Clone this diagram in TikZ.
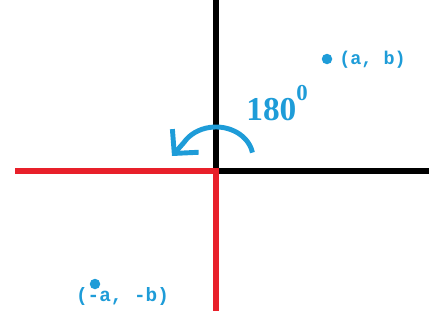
\documentclass[tikz,border=0pt]{standalone}
\usepackage{fontspec}
\setmainfont{Liberation Serif}
\setmonofont{Liberation Mono}
\usepackage{tikz}
\usetikzlibrary{arrows.meta, positioning}
\definecolor{rotBlue}{HTML}{1E9CD8}
\definecolor{axisRed}{HTML}{E8202A}

\begin{document}
\begin{tikzpicture}[
  x=0.02cm, y=0.02cm,
  axis/.style={line width=3pt, line cap=butt},
  pt/.style={circle, fill=rotBlue, inner sep=0pt, minimum size=0.21cm},
  lbl/.style={text=rotBlue, font=\ttfamily\bfseries\fontsize{10.5}{12}\selectfont, inner sep=0pt},
  rot/.style={draw=rotBlue, line width=2.8pt, -{Straight Barb[length=0.34cm, width=0.7cm, line width=2.8pt]}}
]
\useasboundingbox (0,0) rectangle (438,322);

% axes
\coordinate (O) at (216,151);
\coordinate (top) at (216,322);
\coordinate (bottom) at (216,11);
\coordinate (left) at (15,151);
\coordinate (right) at (429,151);
\draw[axis] (O) -- (top);
\draw[axis] (O) -- (right);
\draw[axis, axisRed] (O) -- (left);
\draw[axis, axisRed] ([yshift=1.5pt]O) -- (bottom);

% rotation
\coordinate (tip) at (172,166);
\draw[rot] (252.4,169.4) arc[start angle=10, end angle=150, x radius=37, y radius=31] -- (tip);
\node[text=rotBlue, font=\bfseries\fontsize{19}{20}\selectfont, anchor=base west, inner sep=0pt] (angle) at (246,202)
  {180\raisebox{11pt}{\fontsize{13}{13}\selectfont 0}};

% points
\node[pt] (p) at (327,263) {};
\node[lbl, anchor=west] (plbl) at (339,262.5) {(a, b)};
\node[pt] (q) at (95,38) {};
\node[lbl, font=\ttfamily\bfseries\fontsize{11}{12}\selectfont] (qlbl) at (122.5,25.5) {(-a, -b)};
\end{tikzpicture}
\end{document}
